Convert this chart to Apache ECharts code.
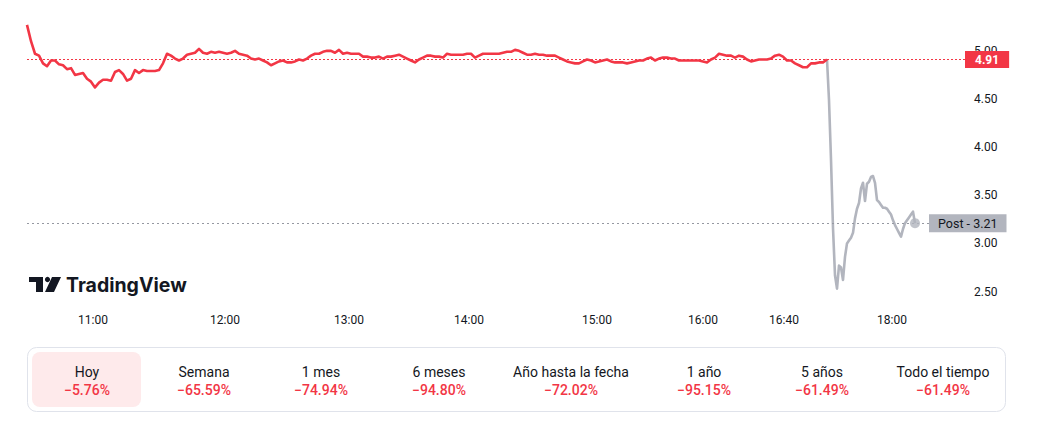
<!DOCTYPE html>
<html><head><meta charset="utf-8">
<script src="https://cdn.jsdelivr.net/npm/echarts@6/dist/echarts.min.js"></script>
<style>html,body{margin:0;padding:0;background:#fff;}#c{width:1047px;height:422px;}</style>
</head><body><div id="c"></div>
<script>
// Regular-session prices (one value per bar index)
const sessionPrices = [
  5.27, 5.10, 4.97, 4.95, 4.87, 4.84, 4.90, 4.90, 4.86, 4.85,
  4.81, 4.82, 4.75, 4.76, 4.77, 4.71, 4.68, 4.62, 4.67, 4.70,
  4.70, 4.69, 4.78, 4.80, 4.76, 4.69, 4.71, 4.80, 4.77, 4.80,
  4.79, 4.79, 4.79, 4.80, 4.87, 4.97, 4.95, 4.92, 4.90, 4.92,
  4.96, 4.97, 4.98, 5.02, 4.98, 4.97, 4.99, 4.98, 4.99, 4.98,
  4.97, 4.98, 5.00, 4.97, 4.96, 4.95, 4.92, 4.91, 4.92, 4.90,
  4.88, 4.85, 4.87, 4.89, 4.90, 4.88, 4.88, 4.89, 4.91, 4.90,
  4.92, 4.95, 4.97, 4.97, 4.99, 5.00, 5.00, 4.98, 5.01, 4.97,
  4.98, 4.97, 4.97, 4.97, 4.94, 4.94, 4.93, 4.93, 4.94, 4.92,
  4.94, 4.94, 4.95, 4.96, 4.94, 4.92, 4.90, 4.88, 4.91, 4.93,
  4.95, 4.95, 4.94, 4.94, 4.93, 4.97, 4.96, 4.96, 4.96, 4.96,
  4.97, 4.97, 4.93, 4.95, 4.97, 4.97, 4.97, 4.97, 4.97, 4.98,
  4.99, 4.99, 5.01, 5.00, 4.98, 4.96, 4.96, 4.97, 4.96, 4.96,
  4.95, 4.95, 4.95, 4.93, 4.91, 4.89, 4.88, 4.87, 4.87, 4.89,
  4.91, 4.90, 4.88, 4.89, 4.90, 4.91, 4.89, 4.88, 4.88, 4.88,
  4.87, 4.88, 4.89, 4.90, 4.90, 4.92, 4.93, 4.90, 4.92, 4.93,
  4.93, 4.92, 4.92, 4.90, 4.90, 4.90, 4.90, 4.90, 4.90, 4.89,
  4.88, 4.91, 4.93, 4.97, 4.96, 4.95, 4.95, 4.93, 4.95, 4.94,
  4.91, 4.89, 4.90, 4.91, 4.91, 4.91, 4.92, 4.95, 4.96, 4.94,
  4.90, 4.90, 4.87, 4.85, 4.83, 4.83, 4.87, 4.87, 4.88, 4.88,
  4.91
];
// Post-market prices (half-bar steps, starting at the last session bar)
const postPrices = [
  4.91, 4.49, 3.87, 3.16, 2.67, 2.53, 2.77, 2.75, 2.62, 2.86,
  3.00, 3.03, 3.06, 3.11, 3.26, 3.36, 3.42, 3.57, 3.63, 3.44,
  3.62, 3.64, 3.69, 3.70, 3.63, 3.45, 3.43, 3.40, 3.37, 3.37,
  3.36, 3.33, 3.30, 3.24, 3.19, 3.15, 3.11, 3.07, 3.15, 3.21,
  3.24, 3.27, 3.30, 3.33, 3.21
];
const postStep = 0.5;
const lastClose = 4.91;
const postLast = 3.21;
const timeLabels = ['11:00', '12:00', '13:00', '14:00', '15:00', '16:00', '16:40', '18:00'];
const timeTickBars = [16.5, 49.5, 80.5, 110.5, 142.5, 169, 189.25, 216.25];
const periodLabels = ['Hoy', 'Semana', '1 mes', '6 meses', 'Año hasta la fecha', '1 año', '5 años', 'Todo el tiempo'];
const periodChanges = ['−5.76%', '−65.59%', '−74.94%', '−94.80%', '−72.02%', '−95.15%', '−61.49%', '−61.49%'];

// Layout (not data)
const periodCenters = [87, 204, 321, 439, 571, 704, 822, 943];
const RED = '#F23645', GREY = '#B2B5BE', TXT = '#131722';
const FONT = 'Roboto, "Liberation Sans", Arial, sans-serif';

const postStart = sessionPrices.length - 1;
const sessionData = sessionPrices.map((v, i) => [i, v]);
const postData = postPrices.map((v, i) => [postStart + i * postStep, v]);
const lastPost = postData[postData.length - 1];

const chart = echarts.init(document.getElementById('c'), null, {renderer: 'svg'});

const graphics = [];
// TradingView logo
graphics.push({type: 'rect', shape: {x: 29, y: 277, width: 14, height: 5}, style: {fill: TXT}});
graphics.push({type: 'rect', shape: {x: 36, y: 277, width: 7, height: 15}, style: {fill: TXT}});
graphics.push({type: 'circle', shape: {cx: 47.5, cy: 279.5, r: 2.6}, style: {fill: TXT}});
graphics.push({type: 'polygon', shape: {points: [[52, 277], [61, 277], [54, 292], [45, 292]]}, style: {fill: TXT}});
graphics.push({type: 'text', x: 66, y: 285, style: {text: 'TradingView', fill: TXT, font: 'bold 19.5px Inter, "Noto Sans", sans-serif', verticalAlign: 'middle', textAlign: 'left'}});
// Performance panel
graphics.push({type: 'rect', shape: {x: 27.5, y: 347.5, width: 978, height: 64, r: 9}, style: {fill: '#fff', stroke: '#E0E3EB', lineWidth: 1}});
graphics.push({type: 'rect', shape: {x: 32, y: 352, width: 109, height: 55, r: 8}, style: {fill: '#FEEAEB'}});
periodLabels.forEach((lab, i) => {
  graphics.push({type: 'text', x: periodCenters[i], y: 372, style: {text: lab, fill: TXT, font: '14px ' + FONT, textAlign: 'center', verticalAlign: 'middle'}});
  graphics.push({type: 'text', x: periodCenters[i], y: 390, style: {text: periodChanges[i], fill: RED, font: '500 14px ' + FONT, textAlign: 'center', verticalAlign: 'middle'}});
});

chart.setOption({
  animation: false,
  backgroundColor: '#fff',
  grid: {left: 27, right: 82, top: 21.96, height: 269.6},
  xAxis: {
    type: 'value', min: 0, max: 234.5,
    axisLine: {show: false}, axisTick: {show: false}, splitLine: {show: false},
    axisLabel: {
      customValues: timeTickBars,
      formatter: v => { const i = timeTickBars.indexOf(v); return i >= 0 ? timeLabels[i] : ''; },
      color: TXT, fontSize: 12, fontFamily: FONT, margin: 22
    }
  },
  yAxis: {
    type: 'value', position: 'right', min: 2.5, max: 5.3, interval: 0.5,
    axisLine: {show: false}, axisTick: {show: false}, splitLine: {show: false},
    axisLabel: {
      color: TXT, fontSize: 12, fontFamily: FONT, margin: 9, showMaxLabel: false,
      formatter: v => Math.abs(v * 2 - Math.round(v * 2)) < 1e-6 ? v.toFixed(2) : ''
    }
  },
  series: [
    {
      type: 'line', data: sessionData, showSymbol: false, symbol: 'none', clip: false, z: 4,
      lineStyle: {color: RED, width: 2.6, join: 'round'},
      markLine: {
        silent: true, symbol: 'none', animation: false,
        lineStyle: {color: RED, type: [2, 2], width: 1},
        label: {position: 'end', distance: 0, formatter: lastClose.toFixed(2), color: '#fff', backgroundColor: RED,
                fontSize: 12, fontWeight: 'bold', fontFamily: FONT, padding: [3, 10, 2, 10]},
        data: [{yAxis: lastClose}]
      }
    },
    {
      type: 'line', data: postData, showSymbol: false, symbol: 'none', clip: false, z: 3,
      lineStyle: {color: GREY, width: 2.6, join: 'round'},
      markLine: {
        silent: true, symbol: 'none', animation: false,
        lineStyle: {color: '#9598A1', type: [2, 3], width: 1},
        label: {position: 'end', distance: -36, formatter: 'Post - ' + postLast.toFixed(2), color: TXT, backgroundColor: GREY,
                fontSize: 12.5, fontFamily: FONT, padding: [3, 9, 2, 9]},
        data: [{yAxis: postLast}]
      }
    },
    {
      type: 'scatter', data: [lastPost], symbol: 'circle', symbolSize: 10, z: 5,
      itemStyle: {color: GREY}
    }
  ],
  graphic: graphics
});
</script>
</body></html>
